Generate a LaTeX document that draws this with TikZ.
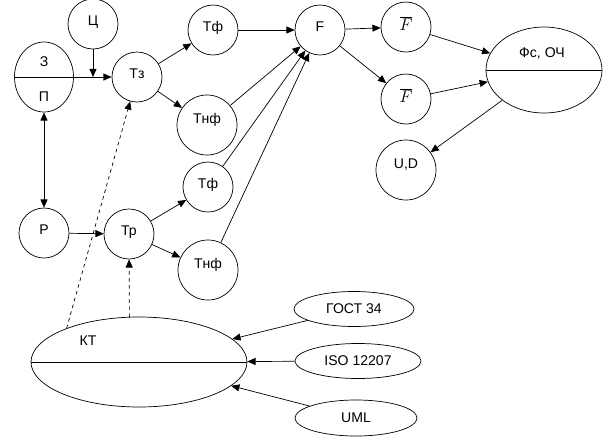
\documentclass[tikz,border=0pt]{standalone}
\usepackage{fontspec}
\setmainfont{Liberation Sans}
\usetikzlibrary{shapes.geometric}
\usetikzlibrary{arrows.meta}

\tikzset{
  krug/.style={draw, circle, inner sep=0pt, minimum size=1.5cm, text depth=6pt},
  bkrug/.style={draw, circle, inner sep=0pt, minimum size=1.8cm, text depth=11pt},
  oval/.style={draw, ellipse, inner sep=0pt},
  arr/.style={-{Triangle[length=7pt,width=6pt]}},
  dblarr/.style={{Triangle[length=7pt,width=6pt]}-{Triangle[length=7pt,width=6pt]}},
  dasharr/.style={arr, dashed},
}

\begin{document}
\begin{tikzpicture}[x=0.03cm, y=-0.03cm, line width=0.6pt, font=\fontsize{12}{14}\selectfont]
\useasboundingbox (0,0) rectangle (604,438);
\node[oval, minimum width=1.77cm, minimum height=2.1cm] (ZP) at (44,77) {};
\draw (ZP.west) -- (ZP.east);
\node (Z) at (44,62) {З};
\node (P) at (44,97) {П};
\node[krug] (C) at (93,24) {Ц};
\node[krug] (Tz) at (137,77) {Тз};
\node[krug] (Tf1) at (213,30) {Тф};
\node[bkrug] (Tnf1) at (207,125) {Тнф};
\node[krug] (F) at (320,30) {F};
\node[krug] (Fb1) at (406,27) {\Large$\overline{F}$};
\node[krug] (Fb2) at (406,99) {\Large$\overline{F}$};
\node[oval, minimum width=3.48cm, minimum height=2.58cm] (Fs) at (544,70) {};
\draw (Fs.west) -- (Fs.east);
\node (FsL) at (542,53) {Фс, ОЧ};
\node[bkrug] (UD) at (406,170) {U,D};
\node[krug] (R) at (44,233) {Р};
\node[krug] (Tr) at (129,234) {Тр};
\node[krug] (Tf2) at (208,187) {Тф};
\node[bkrug] (Tnf2) at (208,270) {Тнф};
\node[oval, minimum width=6.48cm, minimum height=2.7cm] (KT) at (139,362) {};
\draw (KT.west) -- (KT.east);
\node (KTL) at (88,341) {КТ};
\node[oval, minimum width=3.6cm, minimum height=1.05cm] (GOST) at (354,309) {ГОСТ 34};
\node[oval, minimum width=3.78cm, minimum height=1.05cm] (ISO) at (358,361) {ISO 12207};
\node[oval, minimum width=3.66cm, minimum height=1.08cm] (UML) at (356,418) {UML};
\coordinate (J) at (93,77);
\draw[arr] (ZP.east) -- (Tz);
\draw[arr] (C) -- (J);
\draw[dblarr] (ZP) -- (R);
\draw[arr] (R) -- (Tr);
\draw[arr] (Tz) -- (Tf1);
\draw[arr] (Tz) -- (Tnf1);
\draw[arr] (Tr) -- (Tf2);
\draw[arr] (Tr) -- (Tnf2);
\draw[arr] (Tf1) -- (F);
\draw[arr] (Tnf1) -- (F);
\draw[arr] (Tf2) -- (F);
\draw[arr] (Tnf2) -- (F);
\draw[arr] (F) -- (Fb1);
\draw[arr] (F) -- (Fb2);
\draw[arr] (Fb1) -- (Fs);
\draw[arr] (Fb2) -- (Fs);
\draw[arr] (Fs) -- (UD);
\draw[dasharr] (KT.155) -- (Tz);
\draw[dasharr] (KT.102) -- (Tr);
\draw[arr] (GOST) -- (KT);
\draw[arr] (ISO) -- (KT);
\draw[arr] (UML) -- (KT);
\end{tikzpicture}
\end{document}
